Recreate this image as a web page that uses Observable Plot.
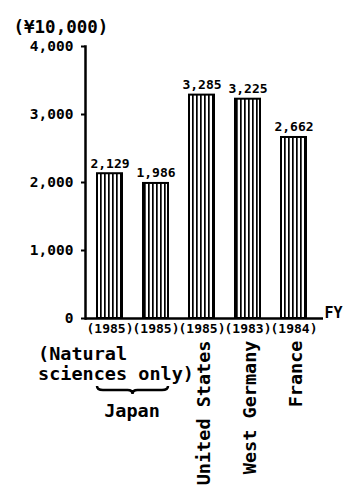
<!DOCTYPE html>
<html>
<head>
<meta charset="utf-8">
<script src="https://cdn.jsdelivr.net/npm/d3@7"></script>
<script src="https://cdn.jsdelivr.net/npm/@observablehq/plot@0.6"></script>
<style>
  html, body { margin: 0; padding: 0; background: #fff; }
</style>
</head>
<body>
<div id="chart"></div>
<script>
const categories = ["Japan", "Japan (Natural sciences only)", "United States", "West Germany", "France"];
const values = [2129, 1986, 3285, 3225, 2662];
const years = ["(1985)", "(1985)", "(1985)", "(1983)", "(1984)"];
const countryLabels = [null, null, "United States", "West Germany", "France"];
const yTicks = [0, 1000, 2000, 3000, 4000];
const unitLabel = "(¥10,000)";
const axisEnd = "FY";
const noteText = "(Natural\nsciences only)";
const groupText = "Japan";

const data = categories.map((c, i) => ({category: c, value: values[i], year: years[i], label: countryLabels[i]}));
const fmt = d3.format(",");
const FONT = "'DejaVu Sans Mono', 'Liberation Mono', monospace";

const chart = Plot.plot({
  width: 343,
  height: 490,
  marginTop: 46,
  marginLeft: 85,
  marginRight: 20,
  marginBottom: 172,
  style: {fontFamily: FONT, fontWeight: "bold", background: "#fff", color: "#000", overflow: "visible"},
  x: {domain: categories, range: [85.5, 318], paddingInner: 0.46, paddingOuter: 0.23, label: null},
  y: {domain: [0, 4000], label: null},
  marks: [
    Plot.barY(data, {x: "category", y: "value", fill: "url(#stripes)", stroke: "#000", strokeWidth: 2}),
    Plot.ruleY([0], {stroke: "#000", strokeWidth: 2.5}),
    Plot.frame({anchor: "left", stroke: "#000", strokeWidth: 2.5}),
    Plot.axisY({ticks: yTicks, tickFormat: fmt, tickSize: 4, tickPadding: 8, fontSize: 14.5, strokeWidth: 2, label: null}),
    Plot.axisX({tickSize: 0, tickPadding: 5, fontSize: 13, label: null,
      tickFormat: (d) => years[categories.indexOf(d)]}),
    Plot.text(data, {x: "category", y: "value", text: (d) => fmt(d.value), dy: -6, lineAnchor: "bottom", fontSize: 13}),
    Plot.text(data.filter((d) => d.label), {x: "category", y: () => 0, text: "label", rotate: -90,
      textAnchor: "end", dx: 2, dy: 22, fontSize: 18.5}),
    Plot.text([{category: categories[1], text: noteText}], {x: "category", y: () => 0, text: "text",
      textAnchor: "start", dx: -118, dy: 45, lineHeight: 1.08, fontSize: 18.5}),
    Plot.text([{category: categories[0], text: groupText}], {x: "category", y: () => 0, text: "text",
      dx: 22, dy: 93, fontSize: 18.5}),
    Plot.text([unitLabel], {frameAnchor: "top-left", text: (d) => d, textAnchor: "start",
      dx: -72, dy: -26, fontSize: 17.5}),
    Plot.text([axisEnd], {frameAnchor: "bottom-right", text: (d) => d, textAnchor: "start",
      dx: 1, dy: -1, fontSize: 15})
  ]
});

// stripe pattern for bars
const svg = d3.select(chart);
const defs = svg.insert("defs", ":first-child");
const pat = defs.append("pattern").attr("id", "stripes").attr("patternUnits", "userSpaceOnUse")
  .attr("width", 4).attr("height", 4);
pat.append("rect").attr("width", 4).attr("height", 4).attr("fill", "#fff");
pat.append("rect").attr("x", 0).attr("width", 1.7).attr("height", 4).attr("fill", "#000");

// brace under the two Japan bars
const sx = chart.scale("x"), sy = chart.scale("y");
const bx0 = sx.apply(categories[0]);
const bx1 = sx.apply(categories[1]) + sx.bandwidth;
const mid = (bx0 + bx1) / 2;
const by = sy.apply(0) + 71;
svg.append("path")
  .attr("fill", "none").attr("stroke", "#000").attr("stroke-width", 2.5)
  .attr("d", `M${bx0},${by - 3} Q${bx0},${by + 1} ${bx0 + 6},${by + 1} L${mid - 5},${by + 1} Q${mid},${by + 1} ${mid},${by + 5} Q${mid},${by + 1} ${mid + 5},${by + 1} L${bx1 - 6},${by + 1} Q${bx1},${by + 1} ${bx1},${by - 3}`);

document.getElementById("chart").appendChild(chart);
</script>
</body>
</html>
